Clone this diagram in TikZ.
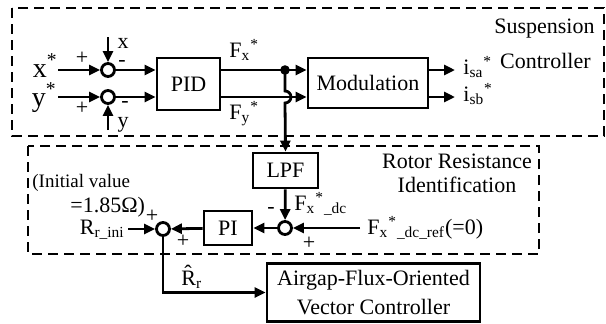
\documentclass[tikz,border=0pt]{standalone}
\usepackage{fontspec}
\setmainfont{Liberation Serif}
\usetikzlibrary{arrows.meta,positioning,calc}

\begin{document}
\begin{tikzpicture}[x=0.5pt, y=-0.5pt,
  box/.style={draw, line width=1.4pt, inner sep=2pt, align=center, font=\fontsize{11}{14.5}\selectfont},
  sumpt/.style={circle, draw, line width=1.4pt, minimum size=6.5pt, inner sep=0pt},
  arr/.style={-{Triangle[length=5.5pt,width=5pt]}, line width=1.4pt},
  frame/.style={line width=1.3pt, dash pattern=on 5pt off 3pt},
  lbl/.style={font=\fontsize{11}{12}\selectfont, inner sep=0pt},
  biglbl/.style={font=\fontsize{14}{15}\selectfont, inner sep=0pt},
  sgn/.style={font=\fontsize{11}{12}\selectfont, inner sep=0pt}
]
\useasboundingbox (0,0) rectangle (606,323);
\draw[frame] (12,8) rectangle (604,136);
\draw[frame] (28,146) rectangle (539,254);

\node[sumpt] (sx) at (108,70) {};
\node[sumpt] (sy) at (108,97) {};
\node[box, minimum width=31.5pt, minimum height=26pt] (pid) at (188.5,84) {PID};
\node[box, minimum width=60pt, minimum height=25pt] (mod) at (368,83) {Modulation};
\node[box, minimum width=32.5pt, minimum height=17.5pt] (lpf) at (285.5,170.5) {LPF};
\node[sumpt] (sdc) at (285,228) {};
\node[box, minimum width=24pt, minimum height=17pt] (pi) at (228,228) {PI};
\node[sumpt] (sr) at (163,229) {};
\node[box, minimum width=106.5pt, minimum height=29pt] (avc) at (373.5,292.5) {Airgap-Flux-Oriented\\Vector Controller};
\coordinate (fork) at (285,70);
\fill (fork) circle (2.4pt);

\node[biglbl, anchor=base east] (xref) at (58,77) {x\textsuperscript{*}};
\node[biglbl, anchor=base east] (yref) at (57,106) {y\textsuperscript{*}};
\node[lbl, anchor=base] (xfb) at (123,48) {x};
\node[lbl, anchor=base] (yfb) at (123,127) {y};
\node[sgn] (mx) at (122,63) {-};
\node[sgn] (my) at (125,104) {-};
\node[sgn] (px) at (82,58) {+};
\node[sgn] (py) at (82,108) {+};
\node[lbl, anchor=base west] (fx) at (229,57) {F\textsubscript{x}\textsuperscript{*}};
\node[lbl, anchor=base west] (fy) at (229,119) {F\textsubscript{y}\textsuperscript{*}};
\node[lbl, anchor=base west] (isa) at (463,74) {i\textsubscript{sa}\textsuperscript{*}};
\node[lbl, anchor=base west] (isb) at (463,101) {i\textsubscript{sb}\textsuperscript{*}};
\node[lbl, anchor=base east] (susp) at (595,33) {Suspension};
\node[lbl, anchor=base east] (ctrl) at (591,68) {Controller};
\node[lbl, anchor=base] (rrot) at (457,168) {Rotor Resistance};
\node[lbl, anchor=base] (rid) at (457,192) {Identification};

\node[lbl, anchor=base west] (fdc) at (294,210) {F\textsubscript{x}\textsuperscript{*}\textsubscript{\_dc}};
\node[lbl, anchor=base west] (fref) at (367,234) {F\textsubscript{x}\textsuperscript{*}\textsubscript{\_dc\_ref}(=0)};
\node[sgn] (mdc) at (271,210) {-};
\node[sgn] (pdc) at (309,243) {+};
\node[lbl, anchor=base west, font=\fontsize{9.5}{11}\selectfont] (init) at (32,187) {(Initial value};
\node[lbl, anchor=base west] (initv) at (70,212) {=1.85Ω)};
\node[lbl, anchor=base east] (rini) at (125,234) {R\textsubscript{r\_ini}};
\node[sgn] (pr1) at (152,216) {+};
\node[sgn] (pr2) at (183,241) {+};
\node[lbl, anchor=base west] (rhat) at (181,285) {\^{R}\textsubscript{r}};

\coordinate (xin) at (108,37);
\coordinate (yin) at (108,130);
\coordinate (xst) at (58,70);
\coordinate (yst) at (58,97);
\coordinate (isaend) at (455,70);
\coordinate (isbend) at (455,97);
\coordinate (dcref) at (360,228);
\coordinate (rst) at (128,229);

\draw[arr] (xst) -- (sx);
\draw[arr] (yst) -- (sy);
\draw[arr] (xin) -- (sx);
\draw[arr] (yin) -- (sy);
\draw[arr] (sx) -- (pid.west |- sx);
\draw[arr] (sy) -- (pid.west |- sy);
\draw[line width=1.4pt] (pid.east |- fork) -- (fork);
\draw[arr] (fork) -- (mod.west |- fork);
\draw[arr] (pid.east |- sy) -- (mod.west |- sy);
\draw[arr] (mod.east |- isaend) -- (isaend);
\draw[arr] (mod.east |- isbend) -- (isbend);
\draw[arr] (fork) -- ($(fork |- sy)+(0,-6)$) arc[start angle=90, end angle=-90, radius=3pt] -- (lpf.north);
\draw[arr] (lpf) -- (sdc);
\draw[arr] (dcref) -- (sdc);
\draw[arr] (sdc) -- (pi);
\draw[arr] (pi) -- (sr);
\draw[arr] (rst) -- (sr);
\draw[arr] (sr) |- (avc.west);
\end{tikzpicture}
\end{document}
